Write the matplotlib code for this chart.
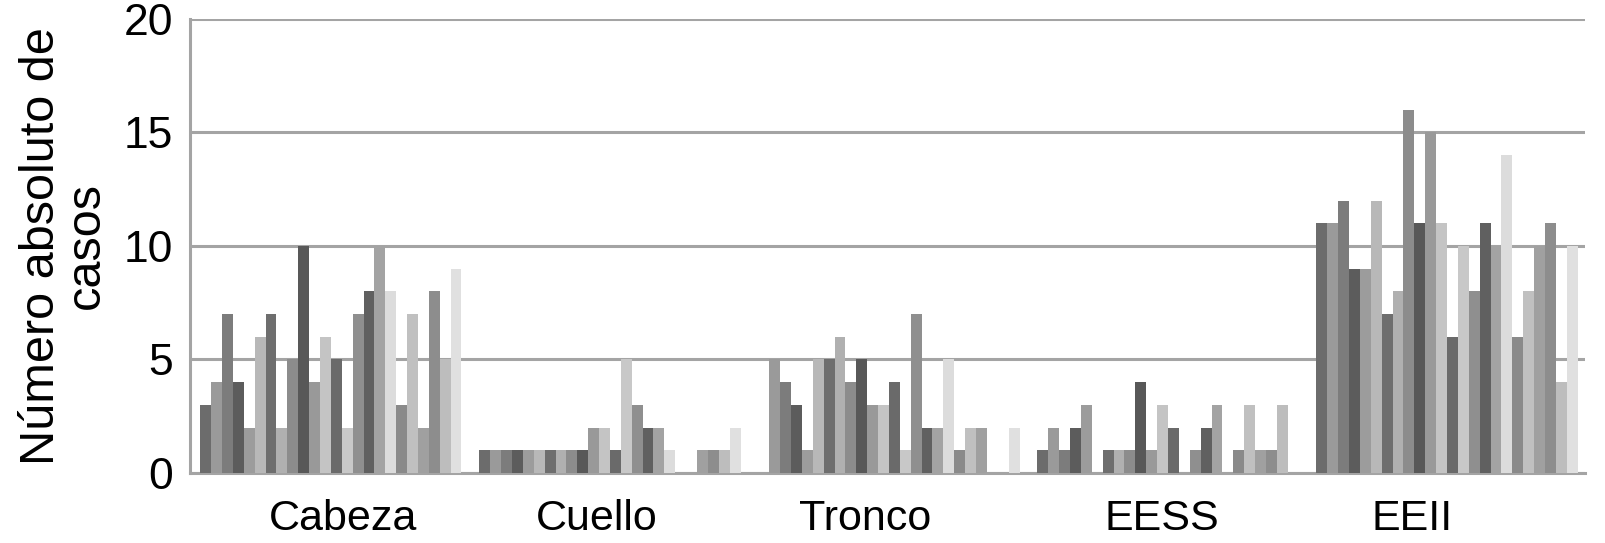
import numpy as np
import matplotlib
matplotlib.use('Agg')
import matplotlib.pyplot as plt

## Data:
regions = ['Cabeza', 'Cuello', 'Tronco', 'EESS', 'EEII']

# 24 series per region
cabeza = [3, 4, 7, 4, 2, 6, 7, 2, 5, 10, 4, 6, 5, 2, 7, 8, 10, 8, 3, 7, 2, 8, 5, 9]
cuello = [1, 1, 1, 1, 1, 1, 1, 1, 1, 1, 2, 2, 1, 5, 3, 2, 2, 1, 0, 0, 1, 1, 1, 2]
tronco = [0, 5, 4, 3, 1, 5, 5, 6, 4, 5, 3, 3, 4, 1, 7, 2, 2, 5, 1, 2, 2, 0, 0, 2]
eess = [1, 2, 1, 2, 3, 0, 1, 1, 1, 4, 1, 3, 2, 0, 1, 2, 3, 0, 1, 3, 1, 1, 3, 0]
eeii = [11, 11, 12, 9, 9, 12, 7, 8, 16, 11, 15, 11, 6, 10, 8, 11, 10, 14, 6, 8, 10, 11, 4, 10]

yticks = [0, 5, 10, 15, 20]

## Grey shade of each series
greys = ['#6c6c6c', '#9a9a9a', '#7c7c7c', '#5c5c5c', '#9c9c9c', '#b8b8b8',
         '#6e6e6e', '#b0b0b0', '#8c8c8c', '#585858', '#999999', '#c4c4c4',
         '#6a6a6a', '#c8c8c8', '#8f8f8f', '#606060', '#a3a3a3', '#dcdcdc',
         '#8a8a8a', '#c0c0c0', '#a0a0a0', '#8d8d8d', '#bdbdbd', '#e0e0e0']

values = np.array([cabeza, cuello, tronco, eess, eeii])  # regions x series
n_series = values.shape[1]

plt.rcParams['font.family'] = ['Liberation Sans', 'DejaVu Sans']

fig = plt.figure(figsize=(16.06, 5.43), dpi=100)
ax = fig.add_axes([0.1183, 0.129, 0.8687, 0.836])

x = np.arange(len(regions))
w = 0.039
start = -n_series * w / 2 + 0.005
for i in range(n_series):
    ax.bar(x + start + i * w, values[:, i], width=w, align='edge',
           color=greys[i], linewidth=0, zorder=3)

ax.set_xlim(-0.5, len(regions) - 0.5)
ax.set_ylim(0, 20)
ax.set_yticks(yticks)
# labels sit a little off the group centres, as in the original
ax.set_xticks(x + np.array([0.048, -0.044, -0.08, -0.018, -0.12]))
ax.set_xticklabels(regions, fontsize=31)
ax.tick_params(axis='y', labelsize=32, length=0, pad=12)
ax.tick_params(axis='x', length=0, pad=19)

ax.yaxis.grid(True, color='#a4a4a4', linewidth=2.2, zorder=1)
for side in ['top', 'right']:
    ax.spines[side].set_visible(False)
for side in ['left', 'bottom']:
    ax.spines[side].set_color('#a4a4a4')
    ax.spines[side].set_linewidth(2.2)

ax.set_ylabel('Número absoluto de\ncasos', fontsize=35, linespacing=1.0, labelpad=11)

fig.savefig('out.png', dpi=100)
